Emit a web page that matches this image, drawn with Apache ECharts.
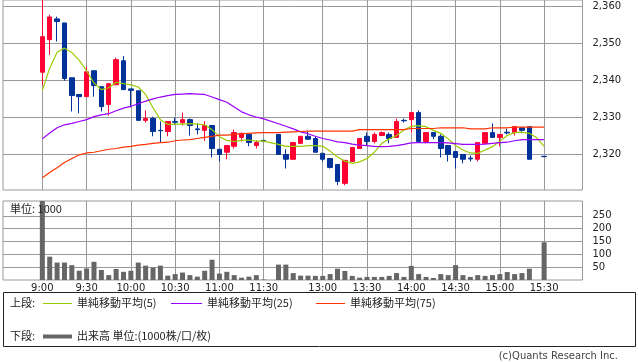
<!DOCTYPE html>
<html><head><meta charset="utf-8">
<script src="https://cdn.jsdelivr.net/npm/echarts@6/dist/echarts.min.js"></script>
<style>html,body{margin:0;padding:0;background:#fff}#c{width:638px;height:362px}</style>
</head><body><div id="c"></div>
<script>
// slot index: 0 = 9:00 ... 30 = 11:30, 31 = lunch gap, 32 = 12:30 ... 68 = 15:30 (5-minute bars)
const tickIdx = [0, 6, 12, 18, 24, 30, 38, 44, 50, 56, 62, 68];
const tickLabels = ['9:00', '9:30', '10:00', '10:30', '11:00', '11:30', '13:00', '13:30', '14:00', '14:30', '15:00', '15:30'];
const priceTicks = [2320, 2330, 2340, 2350, 2360];
const volTicks = [50, 100, 150, 200, 250];

const open = [2342.1,2350.9,2356.5,2355.4,2340.6,2336.1,2335.5,2342.5,2338.2,2333.4,2338.7,2345.2,2337.6,2337.1,2329.1,2329.6,2326.4,2326.1,2328.8,2328.5,2329.3,2326.8,2326.4,2327.7,2321.3,2320.5,2322.1,2324.5,2325.3,2322.3,2323.7,null,2325.3,2319.9,2318.6,2322.9,2324.8,2324.2,2320.2,2318.8,2317.2,2312.1,2318.0,2321.5,2324.8,2323.4,2325.0,2325.3,2324.5,2329.1,2329.3,2331.2,2323.4,2325.8,2324.8,2322.3,2320.7,2319.9,2318.9,2318.6,2322.9,2325.8,2324.5,2325.9,2325.8,2327.1,2327.4,null,2319.4];
const close = [2351.7,2357.0,2355.8,2340.4,2335.8,2335.5,2342.2,2338.5,2332.8,2339.0,2345.5,2337.4,2337.2,2329.1,2329.6,2326.1,2326.3,2328.8,2328.6,2329.3,2327.7,2326.6,2327.7,2321.5,2319.9,2322.3,2325.8,2325.6,2323.1,2323.1,2323.5,null,2319.9,2318.6,2323.1,2324.8,2324.0,2320.5,2318.6,2316.4,2312.6,2318.3,2321.8,2324.2,2323.4,2325.3,2325.8,2324.2,2328.8,2329.0,2331.2,2323.4,2325.8,2324.8,2321.5,2319.9,2319.1,2318.6,2318.7,2323.1,2325.8,2324.5,2325.3,2325.7,2327.4,2326.4,2318.6,null,2319.3];
const low = [2338.5,2346.8,2350.4,2339.8,2331.5,2331.0,2335.5,2335.5,2331.5,2330.4,2338.7,2337.4,2332.6,2329.1,2328.5,2324.8,2323.1,2324.8,2327.8,2327.7,2325.0,2325.3,2323.6,2319.1,2318.0,2318.6,2321.5,2323.4,2322.1,2321.5,2323.4,null,2319.9,2316.1,2318.4,2322.9,2324.0,2320.5,2318.0,2316.1,2311.6,2311.6,2318.0,2321.5,2322.3,2322.9,2325.0,2322.9,2324.5,2328.5,2325.8,2323.4,2322.9,2324.0,2319.1,2318.0,2316.1,2317.5,2318.0,2318.0,2322.9,2324.5,2322.1,2325.3,2325.0,2325.6,2318.6,null,2319.3];
const high = [2362.0,2357.6,2357.1,2355.4,2340.6,2336.1,2343.6,2342.5,2338.2,2339.0,2346.0,2346.5,2337.6,2337.1,2331.8,2330.1,2328.8,2328.8,2329.9,2331.2,2329.6,2328.3,2328.9,2327.7,2321.3,2322.3,2326.6,2325.8,2325.3,2323.7,2323.8,null,2325.3,2321.3,2323.3,2324.8,2326.1,2324.8,2320.2,2318.8,2317.2,2318.3,2321.8,2324.2,2325.8,2325.8,2326.1,2325.8,2329.6,2329.6,2331.2,2331.8,2325.8,2325.8,2325.3,2322.3,2320.7,2319.9,2319.6,2323.1,2325.8,2328.3,2325.3,2326.9,2327.4,2327.1,2327.4,null,2319.4];

const ma5 = [2337.2,2343.2,2347.5,2348.6,2347.4,2345.3,2342.5,2339.2,2337.4,2337.9,2339.4,2339.0,2338.7,2338.1,2336.1,2332.5,2329.3,2328.0,2328.1,2328.1,2328.2,2328.1,2327.9,2326.6,2324.7,2323.7,2323.4,2323.7,2323.8,2323.5,2323.5,null,2322.6,2322.1,2322.1,2322.1,2322.3,2322.3,2322.1,2320.8,2319.2,2318.1,2317.5,2317.9,2318.8,2320.5,2322.9,2324.1,2325.0,2326.5,2327.5,2327.7,2327.4,2326.4,2325.6,2324.1,2322.3,2321.1,2320.3,2320.2,2321.1,2322.0,2323.5,2325.0,2325.8,2325.9,2325.6,2324.4,2322.1];
const ma25 = [2324.1,2325.7,2327.1,2327.9,2328.3,2328.8,2329.3,2330.1,2330.6,2330.9,2331.7,2332.4,2332.9,2333.6,2334.3,2334.9,2335.4,2335.8,2336.1,2336.2,2336.3,2336.2,2336.1,2335.4,2334.7,2334.0,2332.7,2331.4,2330.6,2330.0,2329.5,null,2328.2,2327.5,2326.8,2326.0,2325.5,2324.8,2324.2,2323.8,2323.3,2323.1,2322.7,2322.4,2322.3,2322.1,2322.0,2322.1,2322.3,2322.6,2323.0,2323.1,2323.1,2323.1,2323.1,2323.0,2322.8,2322.6,2322.6,2322.6,2322.7,2322.9,2323.1,2323.2,2323.6,2323.9,2323.9,2323.9,2323.9];
const ma75 = [2313.6,2315.0,2316.3,2317.7,2318.8,2319.8,2320.3,2320.5,2320.9,2321.3,2321.5,2321.9,2322.1,2322.4,2322.6,2322.9,2323.1,2323.2,2323.6,2323.8,2323.9,2324.2,2324.5,2324.8,2325.1,2325.1,2325.3,2325.5,2325.6,2325.7,2325.8,null,2325.8,2325.9,2326.0,2326.1,2326.2,2326.2,2326.2,2326.2,2326.2,2326.2,2326.2,2326.6,2326.6,2326.6,2326.6,2326.6,2326.6,2326.6,2326.9,2326.9,2326.9,2326.9,2327.1,2327.1,2327.1,2327.1,2326.8,2326.8,2326.8,2327.1,2327.1,2327.1,2327.3,2327.3,2327.3,2327.3,2327.3];

const volume = [330,91,68,68,58,36,45,71,39,19,43,32,36,68,56,48,56,17,23,29,19,13,36,79,25,32,19,9,13,19,2,null,60,60,27,17,17,16,16,23,44,35,16,9,12,12,12,16,27,12,55,23,12,8,23,19,58,19,12,19,16,19,23,31,23,27,44,null,147];

const candleData = [];
open.forEach((o, i) => { if (o != null) candleData.push([i, o, close[i], low[i], high[i]]); });
const pairs = arr => arr.map((v, i) => [i, v]).filter(d => d[1] != null);

const FONT = 'DejaVu Sans, "Noto Sans CJK JP", sans-serif';
const JFONT = '"Noto Sans CJK JP", sans-serif';
const X_MIN = -5.33, X_MAX = 73.2;
const GRID_COLOR = '#999999';
const comma = v => String(Math.round(v)).replace(/\B(?=(\d{3})+(?!\d))/g, ',');

const chart = echarts.init(document.getElementById('c'), null, {renderer: 'canvas'});
chart.setOption({
  animation: false,
  backgroundColor: '#ffffff',
  grid: [
    {left: 3, right: 55.5, top: 0, height: 190, show: true, borderColor: GRID_COLOR, borderWidth: 1, backgroundColor: 'transparent'},
    {left: 3, right: 55.5, top: 201, height: 79, show: true, borderColor: GRID_COLOR, borderWidth: 1, backgroundColor: 'transparent'}
  ],
  xAxis: [
    {type: 'value', gridIndex: 0, min: X_MIN, max: X_MAX,
     axisLine: {show: false}, axisTick: {show: false, customValues: tickIdx},
     axisLabel: {show: false, customValues: tickIdx},
     splitLine: {show: true, lineStyle: {color: GRID_COLOR, width: 1}}},
    {type: 'value', gridIndex: 1, min: X_MIN, max: X_MAX,
     axisLine: {show: false}, axisTick: {show: false, customValues: tickIdx},
     axisLabel: {show: true, customValues: tickIdx, margin: 3, fontSize: 10, fontFamily: FONT, color: '#222',
       formatter: v => tickLabels[tickIdx.indexOf(Math.round(v))] || ''},
     splitLine: {show: true, lineStyle: {color: GRID_COLOR, width: 1}}}
  ],
  yAxis: [
    {type: 'value', gridIndex: 0, position: 'right', min: 2310.3, max: 2361.6,
     axisLine: {show: false},
     axisTick: {show: true, inside: false, length: 7, customValues: priceTicks, lineStyle: {color: GRID_COLOR}},
     axisLabel: {customValues: priceTicks, margin: 10, fontSize: 10, fontFamily: FONT, color: '#222', formatter: comma},
     splitLine: {show: true, lineStyle: {color: GRID_COLOR, width: 1}}},
    {type: 'value', gridIndex: 1, position: 'right', min: 0, max: 308,
     axisLine: {show: false},
     axisTick: {show: true, inside: false, length: 4, customValues: volTicks, lineStyle: {color: GRID_COLOR}},
     axisLabel: {customValues: volTicks, margin: 10, fontSize: 10, fontFamily: FONT, color: '#222'},
     splitLine: {show: true, lineStyle: {color: GRID_COLOR, width: 1}}}
  ],
  series: [
    {name: '株価', type: 'candlestick', xAxisIndex: 0, yAxisIndex: 0, data: candleData, barWidth: 5, clip: true,
     itemStyle: {color: '#ff0033', color0: '#003399', borderColor: '#ff0033', borderColor0: '#003399', borderWidth: 1}},
    {name: '単純移動平均(5)', type: 'line', xAxisIndex: 0, yAxisIndex: 0, data: pairs(ma5), showSymbol: false, symbol: 'none',
     lineStyle: {color: '#99cc00', width: 1.2}, z: 3},
    {name: '単純移動平均(25)', type: 'line', xAxisIndex: 0, yAxisIndex: 0, data: pairs(ma25), showSymbol: false, symbol: 'none',
     lineStyle: {color: '#9900ff', width: 1.2}, z: 3},
    {name: '単純移動平均(75)', type: 'line', xAxisIndex: 0, yAxisIndex: 0, data: pairs(ma75), showSymbol: false, symbol: 'none',
     lineStyle: {color: '#ff3300', width: 1.2}, z: 3},
    {name: '出来高', type: 'bar', xAxisIndex: 1, yAxisIndex: 1, data: pairs(volume), barWidth: 5, clip: true,
     itemStyle: {color: '#666666'}}
  ],
  graphic: [
    {type: 'text', left: 10, top: 203, z: 10, style: {text: '単位: 1000', font: '11px ' + JFONT, fill: '#222'}},
    {type: 'rect', shape: {x: 3.5, y: 292.5, width: 632, height: 54}, style: {fill: 'none', stroke: '#222', lineWidth: 1}},
    {type: 'text', x: 10, y: 303, style: {text: '上段:', font: '11px ' + JFONT, fill: '#222', textVerticalAlign: 'middle'}},
    {type: 'line', shape: {x1: 43, y1: 303.5, x2: 72, y2: 303.5}, style: {stroke: '#99cc00', lineWidth: 1}},
    {type: 'text', x: 77, y: 303, style: {text: '単純移動平均(5)', font: '11px ' + JFONT, fill: '#222', textVerticalAlign: 'middle'}},
    {type: 'line', shape: {x1: 171, y1: 303.5, x2: 202, y2: 303.5}, style: {stroke: '#9900ff', lineWidth: 1}},
    {type: 'text', x: 207, y: 303, style: {text: '単純移動平均(25)', font: '11px ' + JFONT, fill: '#222', textVerticalAlign: 'middle'}},
    {type: 'line', shape: {x1: 316, y1: 303.5, x2: 345, y2: 303.5}, style: {stroke: '#ff3300', lineWidth: 1}},
    {type: 'text', x: 350, y: 303, style: {text: '単純移動平均(75)', font: '11px ' + JFONT, fill: '#222', textVerticalAlign: 'middle'}},
    {type: 'text', x: 10, y: 336, style: {text: '下段:', font: '11px ' + JFONT, fill: '#222', textVerticalAlign: 'middle'}},
    {type: 'line', shape: {x1: 43, y1: 336.5, x2: 72, y2: 336.5}, style: {stroke: '#666666', lineWidth: 4}},
    {type: 'text', x: 77, y: 336, style: {text: '出来高 単位:(1000株/口/枚)', font: '11px ' + JFONT, fill: '#222', textVerticalAlign: 'middle'}},
    {type: 'text', x: 618, y: 356, style: {text: '(c)Quants Research Inc.', font: '10px ' + FONT, fill: '#444', textAlign: 'right', textVerticalAlign: 'middle'}}
  ]
});
</script>
</body></html>
